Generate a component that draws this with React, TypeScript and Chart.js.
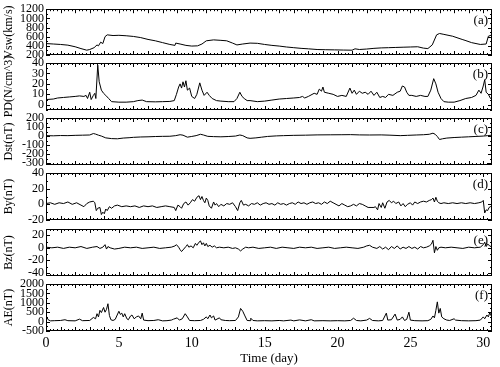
import React, { useEffect, useRef } from "react";
import { Chart, registerables } from "chart.js";
Chart.register(...registerables);

// ---------------- data ----------------
const vswT = [0,0.5,1,1.5,2,2.4,2.8,3,3.3,3.5,3.6,3.75,3.9,4.05,4.2,4.6,5,5.5,6,6.5,7,7.5,8,8.5,8.85,8.9,9.2,9.6,10,10.4,10.7,11,11.5,12,12.4,12.8,13.1,13.5,14,14.5,15,15.5,16,16.5,17,17.5,18,18.6,19.2,19.8,20.4,21,21.2,21.5,22,22.5,23,23.5,24,24.5,25,25.5,25.9,26.2,26.5,26.8,27,27.3,27.9,28.55,28.75,29.2,29.8,30.2,30.35,30.6];
const vswV = [450,440,430,415,380,340,305,320,360,420,400,480,450,600,640,625,630,620,605,580,540,510,470,430,410,460,440,410,395,400,440,510,530,520,510,460,420,440,460,455,430,410,395,375,360,345,335,320,315,312,308,305,335,320,330,345,355,360,365,370,375,380,350,340,420,640,670,650,610,540,520,470,430,440,610,640];

const pdT = [0,0.5,0.8,1.2,1.6,2,2.3,2.6,2.75,2.85,3,3.1,3.25,3.35,3.42,3.55,3.65,3.8,3.95,4.1,4.3,4.5,5,5.5,6,6.3,6.6,6.9,7.5,8,8.5,8.8,8.95,9.1,9.2,9.3,9.4,9.5,9.6,9.7,9.85,10,10.2,10.35,10.55,10.7,10.85,11.05,11.2,11.4,11.7,12,12.5,12.9,13.1,13.3,13.45,13.6,13.8,14,14.5,15,15.5,16,16.5,17,17.4,17.6,17.75,18,18.4,18.6,18.75,18.9,19,19.1,19.4,19.7,20,20.3,20.6,20.85,21,21.15,21.3,21.5,21.7,21.9,22.1,22.3,22.5,22.7,22.9,23.1,23.3,23.5,23.8,24.1,24.3,24.45,24.6,24.75,24.9,25.1,25.4,25.7,26,26.2,26.4,26.6,26.75,26.9,27.1,27.3,27.6,28,28.4,28.8,29.2,29.5,29.7,29.85,30,30.1,30.2,30.35,30.5,30.6];
const pdV = [5,5.5,6.5,7,7.5,8,8.5,8,9,6,12,5,9,11,6,38,22,14,11,9,6,3,2.5,2.5,3,4,4.5,3,2.8,3,3.2,4,10,17,20,16,22,17,23,14,16,8,6,10,21,14,9,12,9,6,4,3.5,3,3,6,12,8,6,4,4,3,3.5,4.5,5.5,6,6.5,7,8,6.5,8,11,10,15,13,17,12,11,10,8,9,8,16,11,14,10,13,11,12,10,13,9,12,7,8,7,10,9,12,13,18,17,12,9,9,8,9,8,8,14,25,20,12,6,3,2.5,2.5,4,6,7,9,14,11,18,24,12,10,6,5];

const dstT = [0,0.5,1,1.5,2,2.5,3,3.25,3.4,3.6,3.8,4.1,4.5,4.9,5.3,5.7,6,6.5,7,7.5,8,8.5,8.9,9.2,9.4,9.7,10,10.3,10.6,10.8,11.1,11.5,12,12.5,13,13.3,13.5,13.8,14,14.4,14.8,15.2,15.8,16.3,17,17.8,18.6,19.5,20.3,20.9,21.5,22.2,23,23.6,24.3,24.8,25.4,25.9,26.3,26.55,26.7,26.85,27,27.2,27.5,28,28.5,29,29.5,30,30.3,30.6];
const dstV = [5,3,6,5,8,10,12,28,22,10,0,-20,-28,-30,-22,-18,-14,-10,-8,-5,-3,-2,5,15,10,-12,-4,5,20,12,-3,-6,-8,-5,0,12,5,-20,-25,-20,-12,-4,2,5,8,10,13,14,15,16,13,12,13,10,5,8,12,15,20,32,20,-5,-38,-30,-22,-16,-12,-8,-4,0,5,10];

const byT = [0,0.3,0.6,0.9,1.2,1.5,1.8,2.1,2.4,2.6,2.8,3,3.25,3.35,3.45,3.55,3.7,3.8,3.9,4,4.1,4.2,4.35,4.5,4.7,4.9,5.2,5.5,5.8,6.1,6.4,6.7,7,7.3,7.6,7.9,8.2,8.5,8.8,8.9,9.05,9.2,9.3,9.45,9.6,9.75,9.9,10.05,10.2,10.35,10.5,10.6,10.7,10.8,10.9,11,11.1,11.2,11.35,11.5,11.6,11.7,11.85,12,12.2,12.4,12.6,12.8,13,13.15,13.3,13.4,13.55,13.7,13.9,14.1,14.3,14.5,14.7,14.9,15.1,15.3,15.5,15.7,15.9,16.1,16.3,16.5,16.7,16.9,17.1,17.3,17.5,17.7,17.9,18.1,18.3,18.5,18.7,18.9,19.1,19.3,19.5,19.7,19.9,20.1,20.3,20.5,20.7,20.9,21.1,21.3,21.5,21.7,21.9,22.1,22.3,22.5,22.6,22.75,22.85,23,23.1,23.25,23.4,23.55,23.7,23.85,24,24.2,24.35,24.5,24.65,24.8,25,25.15,25.3,25.5,25.7,25.9,26.1,26.3,26.45,26.55,26.65,26.75,26.85,26.95,27.1,27.3,27.6,27.9,28.2,28.5,28.8,29.1,29.4,29.7,29.9,30,30.1,30.2,30.3,30.4,30.5,30.6];
const byV = [1,2,0,2,1,3,0,2,-1,-3,1,3,4,2,-8,-5,-4,-13,-10,-12,-6,-8,-3,-5,-2,-1,-3,-2,-3,-2,-4,-2,-3,-2,-4,-3,-2,-3,-4,-8,-1,-3,-5,1,3,-1,2,6,4,9,11,6,10,5,2,8,5,-2,-5,3,-1,1,-3,0,-2,1,0,2,-3,-8,2,5,-1,0,-2,1,0,2,-1,1,2,0,1,-1,2,0,1,-1,1,2,0,3,1,2,0,2,3,1,2,0,3,1,4,2,0,-2,1,-1,-3,-2,0,-2,1,0,-2,-4,-4,-4,-3,-7,1,-4,2,-5,3,5,2,4,1,3,-2,1,-3,0,2,-1,3,1,3,4,3,5,6,8,3,9,4,2,1,2,1,2,1,2,1,2,1,2,3,5,-11,-7,-8,-4,-3,-1];

const bzT = [0,0.4,0.8,1.2,1.6,2,2.4,2.8,3.2,3.5,3.7,3.9,4.05,4.15,4.25,4.4,4.7,5,5.4,5.8,6.2,6.6,7,7.4,7.8,8.2,8.6,8.85,8.95,9.1,9.2,9.3,9.45,9.6,9.7,9.8,9.95,10.1,10.25,10.35,10.5,10.6,10.7,10.8,10.9,11,11.1,11.25,11.4,11.55,11.7,11.9,12.2,12.5,12.8,13,13.2,13.35,13.5,13.7,13.9,14.2,14.6,15,15.4,15.8,16.2,16.6,17,17.4,17.8,18.2,18.6,19,19.4,19.8,20.2,20.6,21,21.4,21.8,22,22.2,22.4,22.7,22.9,23.1,23.3,23.5,23.7,23.9,24.1,24.3,24.5,24.7,24.9,25.1,25.3,25.5,25.7,25.9,26.1,26.3,26.45,26.55,26.65,26.75,26.85,26.95,27.1,27.4,27.8,28.2,28.6,29,29.4,29.8,30,30.1,30.2,30.3,30.45,30.6];
const bzV = [1,0,1,-1,1,0,2,-1,1,2,-1,1,5,-2,2,0,-2,-1,1,0,1,-1,0,1,-1,0,1,3,5,1,-3,-6,-2,2,5,1,3,0,7,4,9,11,5,8,3,7,2,4,1,3,0,1,0,1,-1,0,-2,-5,-2,1,0,1,-1,0,1,-1,1,0,-1,1,0,1,-1,0,1,-1,0,1,0,-1,1,3,4,1,-1,2,-2,1,-3,2,-1,3,-2,1,-1,2,-1,1,-2,2,0,1,3,6,12,-8,2,-4,0,1,0,1,0,-1,1,0,1,5,9,2,6,3,1];

const aeT = [0,0.05,0.15,0.3,0.6,1,1.3,1.5,2,2.3,2.5,3,3.25,3.4,3.5,3.6,3.7,3.8,3.95,4.05,4.15,4.25,4.35,4.45,4.6,4.75,5,5.1,5.2,5.3,5.4,5.55,5.65,5.8,5.9,6.05,6.2,6.35,6.5,6.6,6.7,7,7.4,7.7,8,8.3,8.6,8.75,9,9.15,9.35,9.55,9.7,9.85,10.2,10.6,10.8,11,11.1,11.25,11.35,11.5,11.6,11.9,12,12.3,12.6,13,13.2,13.35,13.5,13.65,13.8,14,14.05,14.2,14.5,15,15.5,16,16.3,16.8,17,17.4,17.8,18.2,18.4,19,19.5,20,20.5,20.9,21.1,21.3,21.6,22,22.2,22.4,22.8,23.1,23.35,23.45,23.7,23.95,24.1,24.3,24.45,24.6,24.75,24.9,25,25.3,25.8,26.2,26.4,26.55,26.65,26.75,26.85,26.95,27.05,27.15,27.3,27.5,27.7,28,28.1,28.5,29,29.5,29.8,30,30.1,30.25,30.35,30.45,30.55,30.6];
const aeV = [150,250,100,40,50,60,100,50,40,130,50,60,220,150,420,250,600,480,750,500,650,950,330,100,60,120,550,380,450,250,420,150,100,300,350,150,250,300,150,450,80,50,60,100,40,50,80,130,200,80,150,420,250,60,50,60,120,250,150,350,200,300,80,200,100,60,50,60,250,700,550,300,60,50,180,60,40,50,40,60,40,80,40,90,40,100,40,50,40,50,40,60,180,60,40,80,170,60,40,60,450,80,100,400,80,120,250,60,120,500,80,50,40,50,120,300,200,600,1050,450,700,250,150,80,60,150,80,50,40,50,80,250,150,350,250,480,300,380];

const vswTicks = [200, 400, 600, 800, 1000, 1200];
const pdTicks = [0, 10, 20, 30, 40];
const dstTicks = [-300, -200, -100, 0, 100, 200];
const byTicks = [-20, 0, 20, 40];
const bzTicks = [-40, -20, 0, 20];
const aeTicks = [-500, 0, 500, 1000, 1500, 2000];
const timeTicks = [0, 5, 10, 15, 20, 25, 30];

const panelTitles = ["Vsw(km/s)", "PD(N/cm^3)", "Dst(nT)", "By(nT)", "Bz(nT)", "AE(nT)"];
const panelTags = ["(a)", "(b)", "(c)", "(d)", "(e)", "(f)"];

// ---------------- layout ----------------
const W = 500;
const H = 367;
const PLOT_LEFT = 46;
const PLOT_RIGHT = 492;
const PANEL_TOPS = [8, 63, 118, 173, 229, 284];
const PANEL_H = 47;
const X_MIN = 0;
const X_MAX = 30.6;
const FONT = '"Liberation Serif", "Times New Roman", serif';

type Panel = {
  title: string; tag: string; t: number[]; v: number[];
  min: number; max: number; ticks: number[]; minor: number;
};

const panels: Panel[] = [
  { title: panelTitles[0], tag: panelTags[0], t: vswT, v: vswV, min: 200, max: 1200, ticks: vswTicks, minor: 100 },
  { title: panelTitles[1], tag: panelTags[1], t: pdT, v: pdV, min: -5, max: 40, ticks: pdTicks, minor: 5 },
  { title: panelTitles[2], tag: panelTags[2], t: dstT, v: dstV, min: -320, max: 200, ticks: dstTicks, minor: 50 },
  { title: panelTitles[3], tag: panelTags[3], t: byT, v: byV, min: -20, max: 40, ticks: byTicks, minor: 10 },
  { title: panelTitles[4], tag: panelTags[4], t: bzT, v: bzV, min: -45, max: 30, ticks: bzTicks, minor: 10 },
  { title: panelTitles[5], tag: panelTags[5], t: aeT, v: aeV, min: -500, max: 2000, ticks: aeTicks, minor: 250 },
];

const framePlugin = {
  id: "frameTicks",
  afterDraw(chart: any, _args: any, opts: any) {
    const { ctx, chartArea: a, scales } = chart;
    const xs = scales.x;
    const ys = scales.y;
    ctx.save();
    ctx.strokeStyle = "#000";
    ctx.lineWidth = 1;
    ctx.strokeRect(Math.round(a.left) + 0.5, Math.round(a.top) + 0.5, Math.round(a.width) - 1, Math.round(a.height) - 1);
    ctx.beginPath();
    for (let i = 0; i * 0.25 <= X_MAX + 1e-9; i++) {
      const d = i * 0.25;
      const px = Math.round(xs.getPixelForValue(d)) + 0.5;
      const L = i % 4 === 0 ? 4 : 2;
      ctx.moveTo(px, a.top);
      ctx.lineTo(px, a.top + L);
      ctx.moveTo(px, a.bottom);
      ctx.lineTo(px, a.bottom - L);
    }
    const minor = opts.minor;
    const start = Math.ceil(ys.min / minor) * minor;
    for (let v = start; v <= ys.max + 1e-9; v += minor) {
      const py = Math.round(ys.getPixelForValue(v)) + 0.5;
      const major = opts.ticks.some((t: number) => Math.abs(t - v) < 1e-9);
      const L = major ? 4 : 2;
      ctx.moveTo(a.left, py);
      ctx.lineTo(a.left + L, py);
      ctx.moveTo(a.right, py);
      ctx.lineTo(a.right - L, py);
    }
    ctx.stroke();
    ctx.fillStyle = "#000";
    ctx.font = `13px ${FONT}`;
    ctx.textAlign = "right";
    ctx.textBaseline = "top";
    ctx.fillText(opts.tag, a.right - 4, a.top + 5);
    ctx.restore();
  },
};

export default function App() {
  const refs = useRef<(HTMLCanvasElement | null)[]>([]);

  useEffect(() => {
    const charts: Chart[] = [];
    panels.forEach((p, i) => {
      const canvas = refs.current[i];
      if (!canvas) return;
      const isLast = i === panels.length - 1;
      const xAxisH = 36;
      const top = PANEL_TOPS[i];
      const bottomPad = H - (top + PANEL_H) - (isLast ? xAxisH : 0);
      const chart = new Chart(canvas, {
        type: "line",
        data: {
          datasets: [
            {
              data: p.t.map((t, k) => ({ x: t, y: p.v[k] })),
              borderColor: "#000",
              borderWidth: 1,
              pointRadius: 0,
              tension: 0,
              fill: false,
            },
          ],
        },
        options: {
          animation: false,
          responsive: false,
          devicePixelRatio: 1,
          events: [],
          layout: { padding: { top, bottom: bottomPad, left: 0, right: W - PLOT_RIGHT } },
          plugins: {
            legend: { display: false },
            tooltip: { enabled: false },
            frameTicks: { tag: p.tag, ticks: p.ticks, minor: p.minor },
          } as any,
          scales: {
            x: {
              type: "linear",
              min: X_MIN,
              max: X_MAX,
              display: isLast,
              grid: { display: false, drawTicks: false },
              border: { display: false },
              afterBuildTicks: (s: any) => {
                s.ticks = timeTicks.map((v) => ({ value: v }));
              },
              afterFit: (s: any) => {
                s.height = isLast ? xAxisH : 0;
              },
              ticks: {
                color: "#000",
                font: { family: FONT, size: 14 },
                padding: 4,
                maxRotation: 0,
                autoSkip: false,
                callback: (v: any) => String(v),
              },
              title: {
                display: true,
                text: "Time (day)",
                color: "#000",
                font: { family: FONT, size: 13 },
                padding: { top: 0, bottom: 1 },
              },
            },
            y: {
              type: "linear",
              min: p.min,
              max: p.max,
              grid: { display: false, drawTicks: false },
              border: { display: false },
              afterBuildTicks: (s: any) => {
                s.ticks = p.ticks.map((v) => ({ value: v }));
              },
              afterFit: (s: any) => {
                s.width = PLOT_LEFT;
              },
              ticks: {
                color: "#000",
                font: { family: FONT, size: 12 },
                padding: 2,
                autoSkip: false,
                callback: (v: any) => String(v),
              },
              title: {
                display: true,
                text: p.title,
                color: "#000",
                font: { family: FONT, size: 12 },
                padding: { top: 2, bottom: 0 },
              },
            },
          },
        },
        plugins: [framePlugin],
      });
      charts.push(chart);
    });
    return () => charts.forEach((c) => c.destroy());
  }, []);

  return (
    <div style={{ position: "fixed", left: 0, top: 0, width: W, height: H, background: "#fff" }}>
      {panels.map((_, i) => (
        <canvas
          key={i}
          ref={(el) => {
            refs.current[i] = el;
          }}
          width={W}
          height={H}
          style={{ position: "absolute", left: 0, top: 0, width: W, height: H }}
        />
      ))}
    </div>
  );
}
